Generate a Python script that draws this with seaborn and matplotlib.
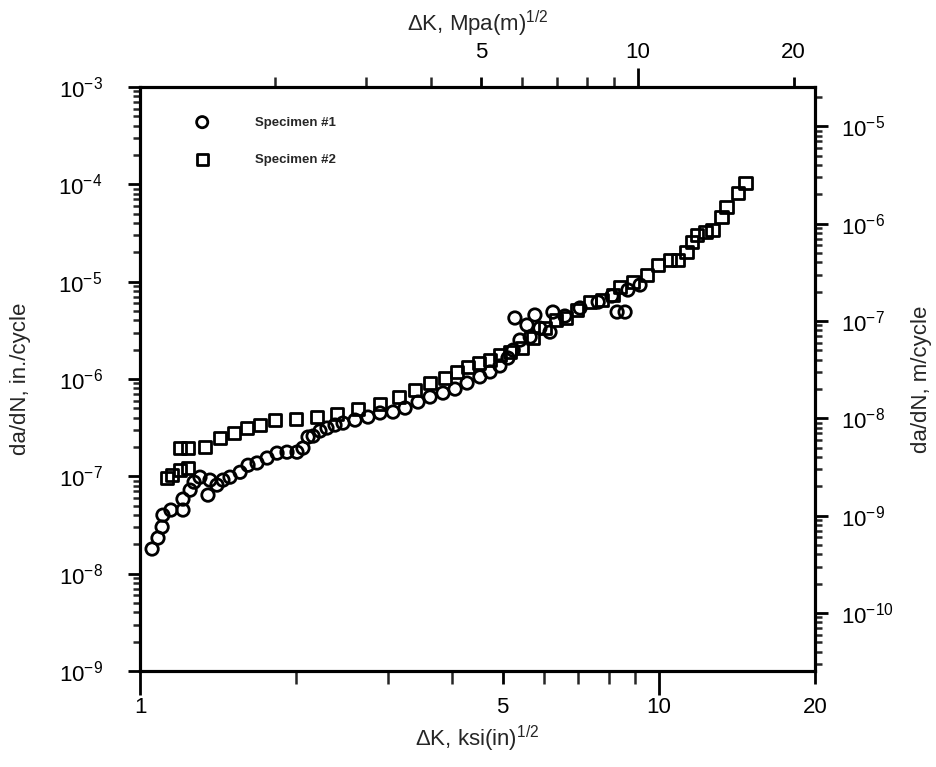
import matplotlib
matplotlib.use("Agg")
import matplotlib.pyplot as plt
import matplotlib.ticker as mticker
import numpy as np
import pandas as pd
import seaborn as sns

# Specimen #1 (circles): delta K in ksi(in)^1/2, da/dN in in./cycle
dk_1 = [1.055, 1.083, 1.103, 1.107, 1.147, 1.21, 1.21, 1.249, 1.271, 1.305,
        1.352, 1.364, 1.407, 1.445, 1.491, 1.559, 1.615, 1.681, 1.758, 1.837,
        1.92, 2.007, 2.061, 2.108, 2.156, 2.223, 2.293, 2.376, 2.462, 2.597,
        2.751, 2.902, 3.074, 3.243, 3.435, 3.623, 3.837, 4.048, 4.27, 4.52,
        4.73, 4.94, 5.12, 5.24, 5.28, 5.40, 5.57, 5.65, 5.77, 5.90,
        6.17, 6.25, 6.59, 7.05, 7.64, 8.12, 8.31, 8.61, 8.72, 9.20]
dadn_1 = [1.79e-8, 2.32e-8, 3.01e-8, 3.99e-8, 4.5e-8, 4.5e-8, 5.83e-8, 7.21e-8, 8.71e-8, 9.8e-8,
          6.41e-8, 9.14e-8, 8.12e-8, 9.14e-8, 9.8e-8, 1.10e-7, 1.30e-7, 1.37e-7, 1.54e-7, 1.73e-7,
          1.77e-7, 1.77e-7, 1.95e-7, 2.53e-7, 2.59e-7, 2.92e-7, 3.13e-7, 3.36e-7, 3.52e-7, 3.78e-7,
          4.06e-7, 4.47e-7, 4.57e-7, 5.02e-7, 5.79e-7, 6.52e-7, 7.16e-7, 7.87e-7, 9.08e-7, 1.05e-6,
          1.18e-6, 1.36e-6, 1.64e-6, 1.98e-6, 4.23e-6, 2.51e-6, 3.58e-6, 2.70e-6, 4.54e-6, 3.33e-6,
          3.03e-6, 4.87e-6, 4.43e-6, 5.36e-6, 6.17e-6, 7.11e-6, 4.87e-6, 4.87e-6, 8.20e-6, 9.23e-6]

# Specimen #2 (squares)
dk_2 = [1.127, 1.153, 1.194, 1.237, 1.194, 1.237, 1.335, 1.427, 1.518, 1.608,
        1.703, 1.82, 1.998, 2.194, 2.398, 2.631, 2.902, 3.157, 3.389, 3.623,
        3.872, 4.083, 4.29, 4.50, 4.73, 4.94, 5.17, 5.45, 5.72, 6.03,
        6.34, 6.62, 6.96, 7.37, 7.77, 8.16, 8.42, 8.92, 9.49, 9.97,
        10.5, 10.9, 11.3, 11.6, 11.85, 12.3, 12.7, 13.2, 13.5, 14.2, 14.7]
dadn_2 = [9.57e-8, 1.03e-7, 1.16e-7, 1.21e-7, 1.95e-7, 1.95e-7, 2.0e-7, 2.47e-7, 2.78e-7, 3.13e-7,
          3.36e-7, 3.78e-7, 3.87e-7, 4.06e-7, 4.36e-7, 4.91e-7, 5.52e-7, 6.52e-7, 7.69e-7, 9.08e-7,
          1.02e-6, 1.18e-6, 1.33e-6, 1.46e-6, 1.56e-6, 1.76e-6, 1.89e-6, 2.08e-6, 2.63e-6, 3.33e-6,
          4.03e-6, 4.23e-6, 5.11e-6, 6.17e-6, 6.47e-6, 7.28e-6, 8.80e-6, 9.91e-6, 1.17e-5, 1.48e-5,
          1.67e-5, 1.67e-5, 2.01e-5, 2.55e-5, 3.01e-5, 3.24e-5, 3.39e-5, 4.61e-5, 5.85e-5, 8.14e-5, 1.03e-4]

# axis ticks
bottom_ticks = [1, 5, 10, 20]
top_ticks = [5, 10, 20]
minor_k = [2, 3, 4, 6, 7, 8, 9]
left_exps = [-9, -8, -7, -6, -5, -4, -3]
right_exps = [-10, -9, -8, -7, -6, -5]

KSI_TO_MPA = 1.0988
IN_TO_M = 0.0254

sns.set_style("ticks")
plt.rcParams['font.family'] = ['Liberation Sans', 'DejaVu Sans']
plt.rcParams['mathtext.default'] = 'regular'

df1 = pd.DataFrame({'dK': dk_1, 'dadN': dadn_1})
df2 = pd.DataFrame({'dK': dk_2, 'dadN': dadn_2})

fig = plt.figure(figsize=(9.36, 7.67), dpi=100)
ax = fig.add_axes([0.1496, 0.1252, 0.7211, 0.7614])

sns.scatterplot(data=df1, x='dK', y='dadN', marker='o', s=80, facecolor='none',
                edgecolor='black', linewidth=2.0, label='Specimen #1', ax=ax, zorder=3)
sns.scatterplot(data=df2, x='dK', y='dadN', marker='s', s=80, facecolor='none',
                edgecolor='black', linewidth=2.0, label='Specimen #2', ax=ax, zorder=3)

ax.set_xscale('log')
ax.set_yscale('log')
ax.set_xlim(1, 20)
ax.set_ylim(1e-9, 1e-3)


def decade_minors(exps, lo, hi):
    vals = [m * 10.0 ** e for e in range(min(exps) - 1, max(exps) + 1) for m in range(2, 10)]
    return [v for v in vals if lo <= v <= hi]


ax.xaxis.set_major_locator(mticker.FixedLocator(bottom_ticks))
ax.xaxis.set_major_formatter(mticker.FixedFormatter([str(t) for t in bottom_ticks]))
ax.xaxis.set_minor_locator(mticker.FixedLocator(minor_k))
ax.xaxis.set_minor_formatter(mticker.NullFormatter())
ax.yaxis.set_major_locator(mticker.FixedLocator([10.0 ** e for e in left_exps]))
ax.yaxis.set_major_formatter(mticker.FixedFormatter(['$10^{%d}$' % e for e in left_exps]))
ax.yaxis.set_minor_locator(mticker.FixedLocator(decade_minors(left_exps, 1e-9, 1e-3)))
ax.yaxis.set_minor_formatter(mticker.NullFormatter())

ax.set_xlabel('ΔK, ksi(in)$^{1/2}$', fontsize=16, labelpad=4)
ax.set_ylabel('da/dN, in./cycle', fontsize=16, labelpad=20)

# top axis in MPa(m)^1/2
axt = ax.twiny()
axt.set_xscale('log')
axt.set_xlim(1 * KSI_TO_MPA, 20 * KSI_TO_MPA)
axt.xaxis.set_major_locator(mticker.FixedLocator(top_ticks))
axt.xaxis.set_major_formatter(mticker.FixedFormatter([str(t) for t in top_ticks]))
axt.xaxis.set_minor_locator(mticker.FixedLocator(minor_k))
axt.xaxis.set_minor_formatter(mticker.NullFormatter())
axt.set_xlabel('ΔK, Mpa(m)$^{1/2}$', fontsize=16, labelpad=8)

# right axis in m/cycle
axr = ax.twinx()
axr.set_yscale('log')
r_lo, r_hi = 1e-9 * IN_TO_M, 1e-3 * IN_TO_M
axr.set_ylim(r_lo, r_hi)
axr.yaxis.set_major_locator(mticker.FixedLocator([10.0 ** e for e in right_exps]))
axr.yaxis.set_major_formatter(mticker.FixedFormatter(['$10^{%d}$' % e for e in right_exps]))
axr.yaxis.set_minor_locator(mticker.FixedLocator(decade_minors(right_exps + [-11, -4], r_lo, r_hi)))
axr.yaxis.set_minor_formatter(mticker.NullFormatter())
axr.set_ylabel('da/dN, m/cycle', fontsize=16, labelpad=12)

for a in (ax, axt, axr):
    a.tick_params(which='major', direction='out', length=9, width=2, labelsize=16, colors='black')
    a.tick_params(which='minor', direction='out', length=5, width=1.8)
    for sp in a.spines.values():
        sp.set_linewidth(2.2)
        sp.set_color('black')

ax.tick_params(axis='y', which='major', pad=18)
axr.tick_params(axis='y', which='major', pad=10)
ax.tick_params(axis='x', which='both', length=9, pad=10)
axt.tick_params(axis='x', which='both', length=7, pad=10)

# longer ticks at the decades
for t, v in zip(ax.xaxis.get_major_ticks(), bottom_ticks):
    if v in (1, 10):
        t.tick1line.set_markersize(17)
for t, v in zip(axt.xaxis.get_major_ticks(), top_ticks):
    if v == 10:
        t.tick2line.set_markersize(14)

leg = ax.legend(loc='upper left', bbox_to_anchor=(0.055, 0.97), frameon=False,
                prop={'size': 9.5, 'weight': 'bold'}, handletextpad=3.0,
                labelspacing=1.9, markerscale=0.9)

fig.savefig('out.png', dpi=100)
